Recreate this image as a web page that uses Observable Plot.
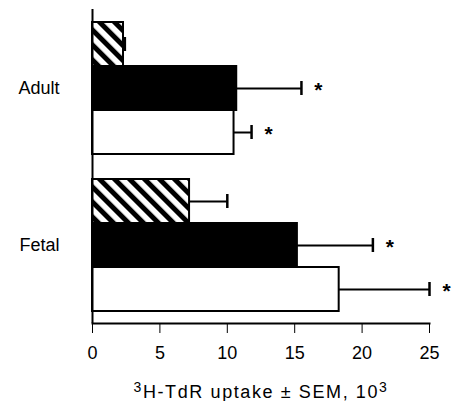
<!DOCTYPE html>
<html>
<head>
<meta charset="utf-8">
<script src="https://cdn.jsdelivr.net/npm/d3@7"></script>
<script src="https://cdn.jsdelivr.net/npm/@observablehq/plot@0.6"></script>
<style>
  html, body { margin: 0; padding: 0; background: white; }
</style>
</head>
<body>
<div id="chart"></div>
<script>
// Data
const groups = ["Adult", "Fetal"];
const series = ["hatched", "solid", "open"];
const adultValues = [2.3, 10.7, 10.5];
const adultErrors = [0.1, 4.8, 1.3];
const adultSignificant = [false, true, true];
const fetalValues = [7.2, 15.2, 18.3];
const fetalErrors = [2.8, 5.6, 6.7];
const fetalSignificant = [false, true, true];
const xTicks = [0, 5, 10, 15, 20, 25];
const xLabel = "³H-TdR uptake ± SEM, 10³";

const table = [
  ...series.map((s, i) => ({group: "Adult", series: s, value: adultValues[i], err: adultErrors[i], sig: adultSignificant[i]})),
  ...series.map((s, i) => ({group: "Fetal", series: s, value: fetalValues[i], err: fetalErrors[i], sig: fetalSignificant[i]}))
];
const upper = d => d.value + d.err;

const chart = Plot.plot({
  width: 460,
  height: 401,
  marginLeft: 92,
  marginRight: 31,
  marginTop: 8,
  marginBottom: 78,
  style: {fontFamily: "'Liberation Sans', Arial, Helvetica, sans-serif", fontSize: "18px", color: "black", background: "white"},
  x: {domain: [0, 25], ticks: xTicks, tickSize: 10, tickPadding: 13, label: xLabel, labelAnchor: "center", labelArrow: "none", labelOffset: 74},
  y: {domain: series, axis: null, paddingInner: 0, paddingOuter: 0.25},
  fy: {domain: groups, padding: 0, label: null, axis: "left", tickSize: 0, tickPadding: 33},
  color: {domain: series, range: ["url(#hatch)", "black", "white"]},
  marks: [
    Plot.barX(table, {fy: "group", y: "series", x: "value", fill: "series", stroke: "black", strokeWidth: 2}),
    Plot.ruleY(table, {fy: "group", y: "series", x1: "value", x2: upper, stroke: "black", strokeWidth: 2}),
    Plot.tickX(table, {fy: "group", y: "series", x: upper, stroke: "black", strokeWidth: 2.5, insetTop: 15, insetBottom: 15}),
    Plot.text(table.filter(d => d.sig), {fy: "group", y: "series", x: upper, text: () => "*", dx: 17, dy: 2, fontSize: 21, fontWeight: "bold"}),
    Plot.ruleX([0], {stroke: "black", strokeWidth: 2}),
    Plot.frame({anchor: "bottom", facet: "super", stroke: "black", strokeWidth: 2})
  ]
});

const root = chart.tagName.toLowerCase() === "svg" ? chart : chart.querySelector("svg");
const svg = d3.select(root);
const pat = svg.insert("defs", ":first-child")
  .append("pattern")
  .attr("id", "hatch")
  .attr("patternUnits", "userSpaceOnUse")
  .attr("width", 10.6)
  .attr("height", 10.6)
  .attr("patternTransform", "rotate(-45)");
pat.append("rect").attr("width", 10.6).attr("height", 10.6).attr("fill", "white");
pat.append("rect").attr("width", 5).attr("height", 10.6).attr("fill", "black");

// Render the axis label with true superscripts (same text, split into tspans)
svg.selectAll("g[aria-label='x-axis label'] text").each(function() {
  const t = d3.select(this);
  const parts = xLabel.split(/(³)/).filter(p => p !== "");
  t.text(null).style("letter-spacing", "1.6px");
  for (const p of parts) {
    if (p === "³") {
      t.append("tspan").attr("font-size", "14px").attr("baseline-shift", "45%").text("3");
    } else {
      t.append("tspan").text(p);
    }
  }
});

document.getElementById("chart").appendChild(chart);
</script>
</body>
</html>
